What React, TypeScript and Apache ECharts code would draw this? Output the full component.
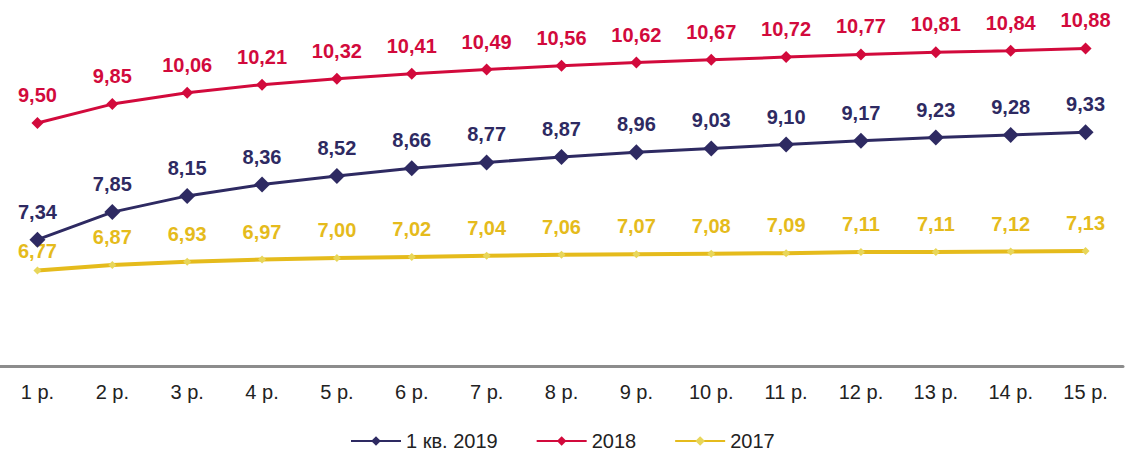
import React, { useEffect, useRef } from "react";
import * as echarts from "echarts";

const categories = ["1 р.", "2 р.", "3 р.", "4 р.", "5 р.", "6 р.", "7 р.", "8 р.", "9 р.", "10 р.", "11 р.", "12 р.", "13 р.", "14 р.", "15 р."];
const seriesNames = ["1 кв. 2019", "2018", "2017"];
const values2019 = [7.34, 7.85, 8.15, 8.36, 8.52, 8.66, 8.77, 8.87, 8.96, 9.03, 9.1, 9.17, 9.23, 9.28, 9.33];
const values2018 = [9.5, 9.85, 10.06, 10.21, 10.32, 10.41, 10.49, 10.56, 10.62, 10.67, 10.72, 10.77, 10.81, 10.84, 10.88];
const values2017 = [6.77, 6.87, 6.93, 6.97, 7.0, 7.02, 7.04, 7.06, 7.07, 7.08, 7.09, 7.11, 7.11, 7.12, 7.13];

const FONT = "'Liberation Sans', Arial, sans-serif";
const fmt = (p: any) => Number(p.value).toFixed(2).replace(".", ",");

export default function App() {
  const ref = useRef<HTMLDivElement>(null);
  useEffect(() => {
    if (!ref.current) return;
    const chart = echarts.init(ref.current, undefined, { renderer: "svg" });
    const mkSeries = (name: string, data: any[], color: string, symbolColor: string, size: number, width: number, dist: number, z: number) => ({
      name,
      type: "line",
      data,
      z,
      symbol: "diamond",
      symbolSize: size,
      lineStyle: { color, width },
      itemStyle: { color: symbolColor },
      label: {
        show: true,
        position: "top",
        distance: dist,
        formatter: fmt,
        color,
        fontFamily: FONT,
        fontSize: 20,
        fontWeight: "bold",
        lineHeight: 20,
      },
    });
    const data2017 = values2017.map((v, i) =>
      i === 0 ? { value: v, label: { show: true, position: "top", distance: 14, offset: [0, 9] } } : v
    );
    chart.setOption({
      animation: false,
      backgroundColor: "#ffffff",
      textStyle: { fontFamily: FONT },
      grid: { left: 0, right: 2, top: 42, bottom: 89, containLabel: false },
      legend: {
        left: 345,
        top: 426,
        itemWidth: 50,
        itemHeight: 12,
        itemGap: 38,
        textStyle: { fontSize: 20, color: "#222", fontFamily: FONT },
        data: seriesNames,
      },
      xAxis: {
        type: "category",
        data: categories,
        boundaryGap: true,
        axisLine: { lineStyle: { color: "#8c8c8c", width: 3 } },
        axisTick: { show: false },
        axisLabel: { color: "#222", fontSize: 20, margin: 16, fontFamily: FONT },
      },
      yAxis: {
        type: "value",
        min: 5,
        max: 11,
        show: false,
        splitLine: { show: false },
      },
      series: [
        mkSeries(seriesNames[0], values2019, "#2e2a62", "#2e2a62", 16, 3, 10, 3),
        mkSeries(seriesNames[1], values2018, "#d20a3c", "#d20a3c", 12, 3, 12, 2),
        mkSeries(seriesNames[2], data2017, "#e5bb1c", "#e8d65a", 8, 4, 14, 1),
      ],
    });
    return () => chart.dispose();
  }, []);
  return (
    <div
      ref={ref}
      style={{ position: "fixed", left: 0, top: 0, width: 1125, height: 455, background: "#fff" }}
    />
  );
}
